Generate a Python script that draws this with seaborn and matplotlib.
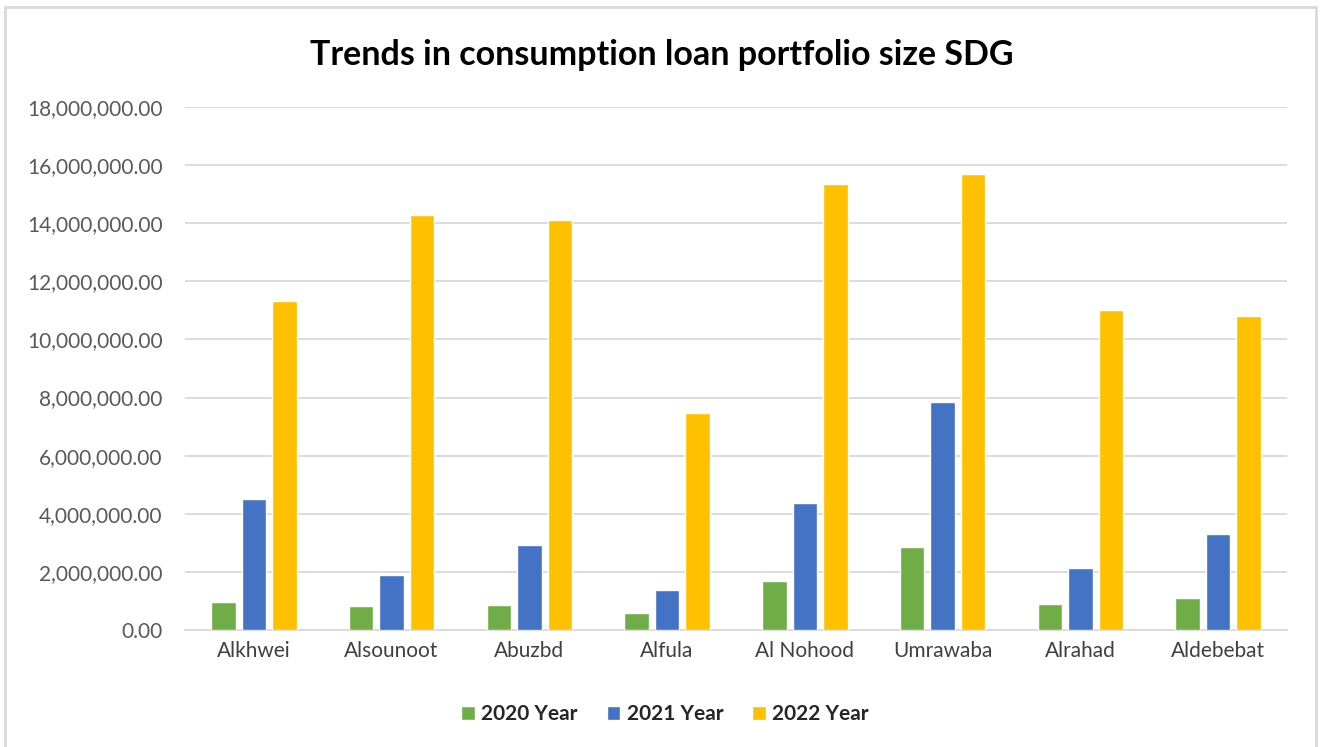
import numpy as np
import pandas as pd
import matplotlib
matplotlib.use("Agg")
import matplotlib.pyplot as plt
import seaborn as sns
from matplotlib.patches import Rectangle
from matplotlib.ticker import FuncFormatter, MultipleLocator

branches = ["Alkhwei", "Alsounoot", "Abuzbd", "Alfula", "Al Nohood", "Umrawaba", "Alrahad", "Aldebebat"]
years = ["2020 Year", "2021 Year", "2022 Year"]
values_2020 = [960000, 830000, 860000, 580000, 1690000, 2870000, 890000, 1090000]
values_2021 = [4510000, 1890000, 2920000, 1380000, 4370000, 7850000, 2140000, 3310000]
values_2022 = [11320000, 14280000, 14110000, 7460000, 15360000, 15690000, 11020000, 10820000]
colors = ["#70AD47", "#4472C4", "#FFC000"]

df = pd.DataFrame({
    "Branch": branches * 3,
    "Year": [years[0]] * 8 + [years[1]] * 8 + [years[2]] * 8,
    "Value": values_2020 + values_2021 + values_2022,
})

sns.set_theme(style="white")
plt.rcParams["font.family"] = ["Lato", "DejaVu Sans"]

W, H = 1322, 747
fig = plt.figure(figsize=(W / 100, H / 100), dpi=100)
ax = fig.add_axes([185 / W, 1 - 630 / H, (1287 - 185) / W, (630 - 107) / H])

sns.barplot(data=df, x="Branch", y="Value", hue="Year", palette=colors,
            order=branches, hue_order=years, width=0.664, gap=0.2,
            saturation=1, errorbar=None, ax=ax, zorder=3, legend=True)

ax.set_ylim(0, 18000000)
ax.set_xlim(-0.5, 7.5)
ax.yaxis.set_major_locator(MultipleLocator(2000000))
ax.yaxis.set_major_formatter(FuncFormatter(lambda v, p: f"{v:,.2f}"))
ax.grid(axis="y", color="#D9D9D9", linewidth=1.3, zorder=0)
ax.set_axisbelow(True)
for s in ["top", "right", "left"]:
    ax.spines[s].set_visible(False)
ax.spines["bottom"].set_color("#D9D9D9")
ax.spines["bottom"].set_linewidth(1.3)
ax.set_xlabel("")
ax.set_ylabel("")
ax.tick_params(axis="y", labelsize=15, labelcolor="#595959", length=0, pad=16)
ax.tick_params(axis="x", labelsize=15, labelcolor="#404040", length=0, pad=8)

leg = ax.get_legend()
handles, labels = ax.get_legend_handles_labels()
leg.remove()
fig.legend(handles, labels, loc="center", bbox_to_anchor=(665 / W, 1 - 714 / H),
           ncol=3, frameon=False, prop={"weight": "bold", "size": 15},
           handlelength=0.65, handleheight=0.65, handletextpad=0.3, columnspacing=1.4)

fig.text(662 / W, 1 - 55 / H, "Trends in consumption loan portfolio size SDG",
         ha="center", va="center", fontsize=24.5, fontweight="bold", color="black")

fig.patches.append(Rectangle((5 / W, -0.02), (1316 - 5) / W, 1 - 7 / H + 0.02,
                             transform=fig.transFigure, fill=False,
                             edgecolor="#D9D9D9", linewidth=2))

fig.savefig("out.png", dpi=100)
